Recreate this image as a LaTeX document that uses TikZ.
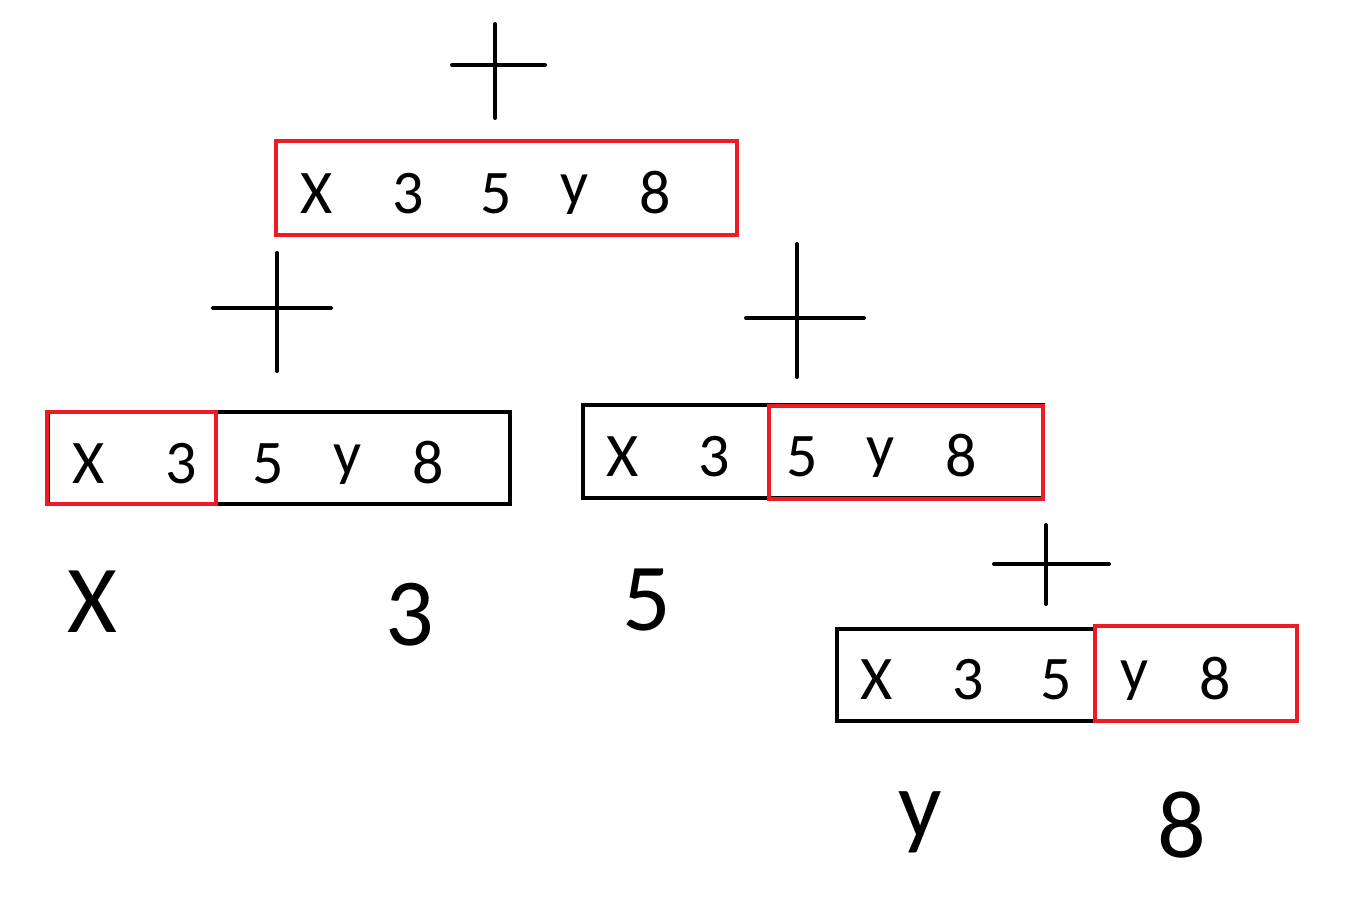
\documentclass[tikz,border=0pt]{standalone}
\usepackage{fontspec}
\setmainfont{Carlito}
\definecolor{pred}{HTML}{ED1C24}
\begin{document}
\begin{tikzpicture}[x=1pt,y=-1pt,
  ln/.style={line width=4pt,line cap=round},
  bx/.style={line width=4pt},
  rbx/.style={line width=4pt,draw=pred},
  sm/.style={inner sep=0pt,anchor=base,font=\fontsize{62}{70}\selectfont},
  lg/.style={inner sep=0pt,anchor=base,font=\fontsize{96}{110}\selectfont}]
\useasboundingbox[fill=white] (0,0) rectangle (1353,911);
% top
\draw[ln] (495,24) -- (495,118);
\draw[ln] (452,65) -- (545,65);
\draw[rbx] (276,141) rectangle (737,235);
\node[sm] (t1) at (317,213) {X};
\node[sm] (t2) at (408,213) {3};
\node[sm] (t3) at (496,213) {5};
\node[sm] (t4) at (575,204) {y};
\node[sm] (t5) at (655,213) {8};
% left
\draw[ln] (277,253) -- (277,371);
\draw[ln] (213,308) -- (331,308);
\draw[bx] (48,412) rectangle (510,504);
\draw[rbx] (47,412) rectangle (216,504);
\node[sm] (l1) at (89,483) {X};
\node[sm] (l2) at (181,483) {3};
\node[sm] (l3) at (268,483) {5};
\node[sm] (l4) at (348,474) {y};
\node[sm] (l5) at (428,483) {8};
\node[lg] (lx) at (92,632) {X};
\node[lg] (l3b) at (410,645) {3};
% middle
\draw[ln] (797,244) -- (797,377);
\draw[ln] (746,318) -- (864,318);
\draw[bx] (583,405) rectangle (1043,498);
\draw[rbx] (769,406) rectangle (1043,499);
\node[sm] (m1) at (623,476) {X};
\node[sm] (m2) at (714,476) {3};
\node[sm] (m3) at (802,476) {5};
\node[sm] (m4) at (881,467) {y};
\node[sm] (m5) at (961,476) {8};
\node[lg] (m5b) at (647,630) {5};
% bottom right
\draw[ln] (1046,525) -- (1046,604);
\draw[ln] (994,564) -- (1109,564);
\draw[bx] (837,629) rectangle (1095,721);
\draw[rbx] (1095,626) rectangle (1297,721);
\node[sm] (r1) at (877,699) {X};
\node[sm] (r2) at (968,699) {3};
\node[sm] (r3) at (1056,699) {5};
\node[sm] (r4) at (1135,690) {y};
\node[sm] (r5) at (1215,699) {8};
\node[lg] (ry) at (920,837) {y};
\node[lg] (r8) at (1182,857) {8};
\end{tikzpicture}
\end{document}
